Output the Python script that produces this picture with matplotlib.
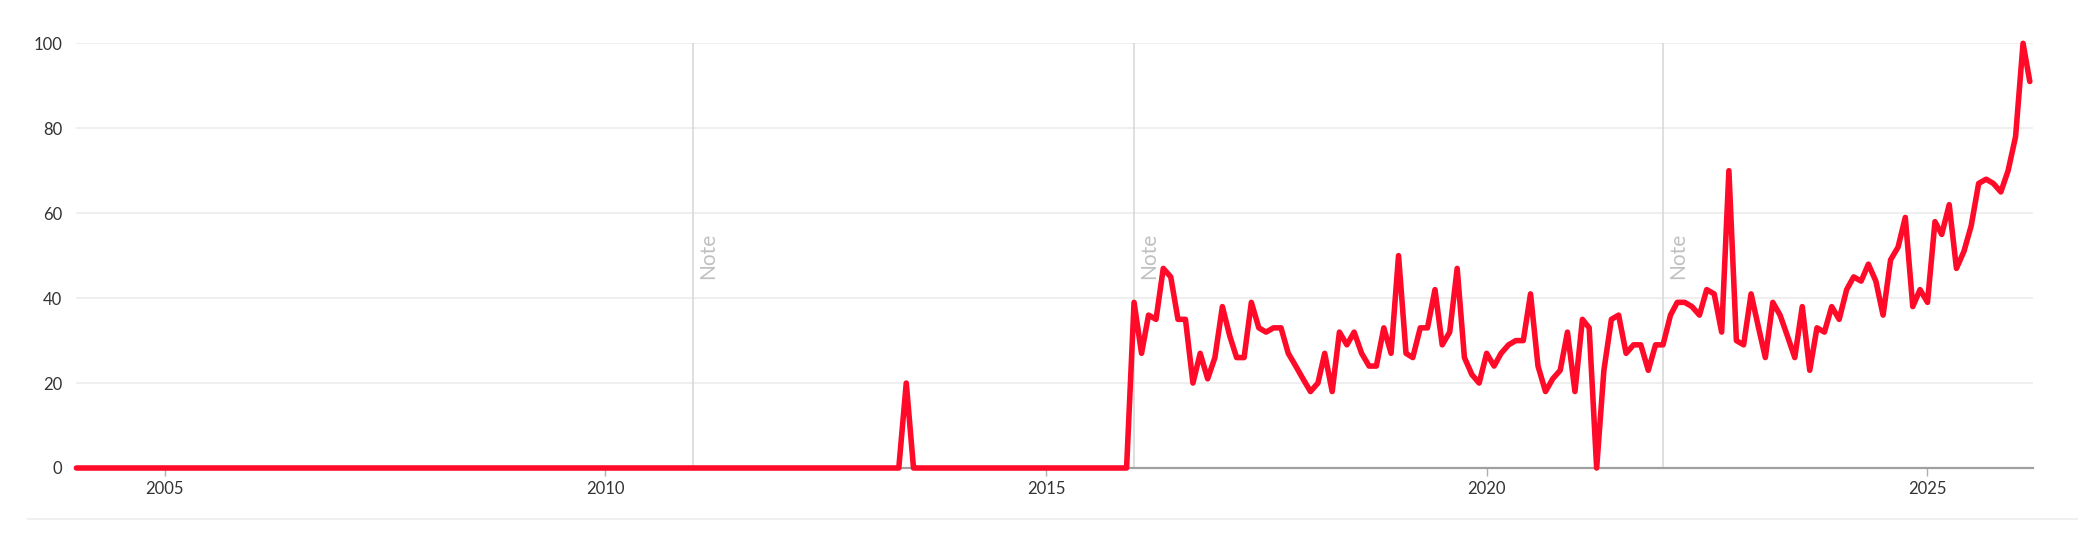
import pandas as pd
import matplotlib.pyplot as plt
import matplotlib.dates as mdates
from matplotlib.lines import Line2D
from matplotlib.transforms import offset_copy

plt.rcParams['font.family'] = ['Lato', 'DejaVu Sans']

# monthly interest, Jan 2004 .. Mar 2026 (one row per year)
interest = [
    0, 0, 0, 0, 0, 0, 0, 0, 0, 0, 0, 0,            # 2004
    0, 0, 0, 0, 0, 0, 0, 0, 0, 0, 0, 0,            # 2005
    0, 0, 0, 0, 0, 0, 0, 0, 0, 0, 0, 0,            # 2006
    0, 0, 0, 0, 0, 0, 0, 0, 0, 0, 0, 0,            # 2007
    0, 0, 0, 0, 0, 0, 0, 0, 0, 0, 0, 0,            # 2008
    0, 0, 0, 0, 0, 0, 0, 0, 0, 0, 0, 0,            # 2009
    0, 0, 0, 0, 0, 0, 0, 0, 0, 0, 0, 0,            # 2010
    0, 0, 0, 0, 0, 0, 0, 0, 0, 0, 0, 0,            # 2011
    0, 0, 0, 0, 0, 0, 0, 0, 0, 0, 0, 0,            # 2012
    0, 0, 0, 0, 0, 20, 0, 0, 0, 0, 0, 0,           # 2013
    0, 0, 0, 0, 0, 0, 0, 0, 0, 0, 0, 0,            # 2014
    0, 0, 0, 0, 0, 0, 0, 0, 0, 0, 0, 0,            # 2015
    39, 27, 36, 35, 47, 45, 35, 35, 20, 27, 21, 26,  # 2016
    38, 31, 26, 26, 39, 33, 32, 33, 33, 27, 24, 21,  # 2017
    18, 20, 27, 18, 32, 29, 32, 27, 24, 24, 33, 27,  # 2018
    50, 27, 26, 33, 33, 42, 29, 32, 47, 26, 22, 20,  # 2019
    27, 24, 27, 29, 30, 30, 41, 24, 18, 21, 23, 32,  # 2020
    18, 35, 33, 0, 23, 35, 36, 27, 29, 29, 23, 29,   # 2021
    29, 36, 39, 39, 38, 36, 42, 41, 32, 70, 30, 29,  # 2022
    41, 33, 26, 39, 36, 31, 26, 38, 23, 33, 32, 38,  # 2023
    35, 42, 45, 44, 48, 44, 36, 49, 52, 59, 38, 42,  # 2024
    39, 58, 55, 62, 47, 51, 57, 67, 68, 67, 65, 70,  # 2025
    78, 100, 91,                                     # 2026
]
note_dates = ['2011-01-01', '2016-01-01', '2022-01-01']
y_ticks = [0, 20, 40, 60, 80, 100]

dates = pd.date_range('2004-01-01', periods=len(interest), freq='MS')
notes = pd.to_datetime(note_dates)

W, H = 2078, 543
fig = plt.figure(figsize=(W / 100, H / 100), dpi=100)
fig.patch.set_facecolor('white')

left, right = 76.4, 2032.7
top, bottom = 43.3, 468
ax = fig.add_axes([left / W, 1 - bottom / H, (right - left) / W, (bottom - top) / H])

# grid
for v in y_ticks[1:]:
    ax.axhline(v, color='#ececec', lw=1.2, zorder=0)

# note markers
ax.vlines(notes, 0, 100, color='#d9d9d9', lw=1.2, zorder=1)
note_tr = offset_copy(ax.transData, fig=fig, x=5, y=0, units='dots')
for d in notes:
    ax.text(d, 44.5, 'Note', rotation=90, ha='left', va='bottom',
            fontsize=15, color='#c0c0c0', transform=note_tr)

ax.plot(dates, interest, color='#ff0a28', lw=4.0, solid_joinstyle='round',
        solid_capstyle='round', zorder=4, clip_on=False)

ax.set_ylim(0, 100)
ax.set_xlim(dates[0], dates[-1] + pd.Timedelta(days=12))
ax.set_yticks(y_ticks)
ax.xaxis.set_major_locator(mdates.YearLocator(5))
ax.xaxis.set_major_formatter(mdates.DateFormatter('%Y'))

for s in ['top', 'right', 'left']:
    ax.spines[s].set_visible(False)
ax.spines['bottom'].set_color('#a0a0a0')
ax.spines['bottom'].set_linewidth(1.6)
ax.spines['bottom'].set_zorder(3)

ax.tick_params(axis='y', length=0, pad=10, labelsize=12, labelcolor='#333333')
ax.tick_params(axis='x', length=6, width=1, color='#b0b0b0', pad=3,
               labelsize=12, labelcolor='#333333')

# separator line under the chart
fig.add_artist(Line2D([28 / W, 1], [1 - 519 / H, 1 - 519 / H],
                      transform=fig.transFigure, color='#f0f0f0', lw=1.5))

fig.savefig('out.png', dpi=100, facecolor='white')
